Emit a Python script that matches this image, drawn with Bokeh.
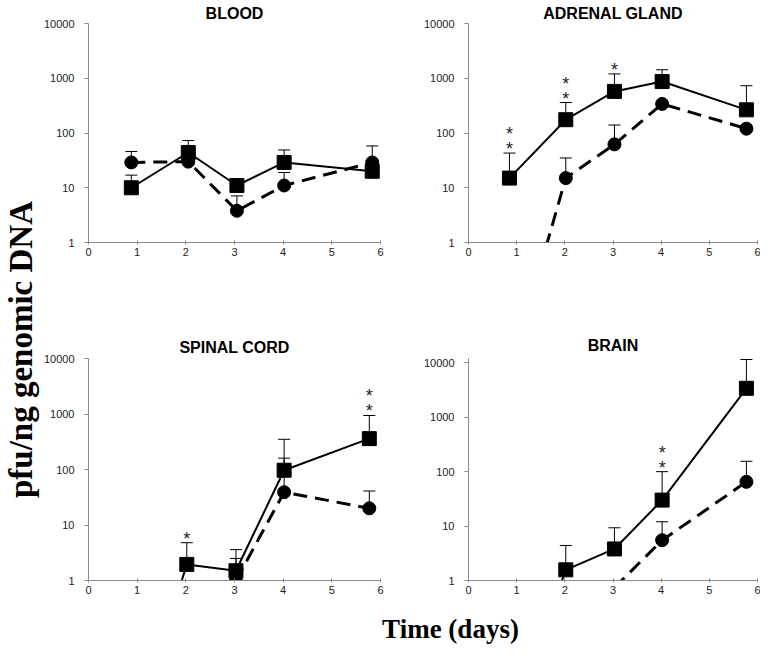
import math
from bokeh.plotting import figure
from bokeh.layouts import row, column
from bokeh.models import Range1d, FixedTicker, Whisker, TeeHead, ColumnDataSource, LabelSet
from bokeh.core.properties import value
from bokeh.embed import file_html
from bokeh.resources import INLINE

nan = float("nan")

# ---------------- data ----------------
x_ticks = [0, 1, 2, 3, 4, 5, 6]
y_ticks = [1, 10, 100, 1000, 10000]
y_tick_labels = ["1", "10", "100", "1000", "10000"]

days = [0.85, 2.02, 3.03, 4.02, 5.77]
blood_days = [0.88, 2.05, 3.05, 4.02, 5.83]

# squares (solid line) / circles (dashed line); None = no error bar drawn
blood_sq = [10, 44, 11, 29, 20]
blood_sq_err = [17, 73, None, 49, 58]
blood_ci = [29, 30, 3.8, 11, 29]
blood_ci_err = [46, None, 7.1, 19, None]
blood_stars = [0, 0, 0, 0, 0]

adrenal_sq = [15, 175, 575, 870, 265]
adrenal_sq_err = [43, 360, 1200, 1430, 730]
adrenal_ci = [0.004, 15, 62, 340, 120]
adrenal_ci_err = [None, 35, 140, None, None]
adrenal_stars = [2, 2, 1, 0, 0]

spinal_sq = [0.001, 1.95, 1.5, 97, 360]
spinal_sq_err = [None, 4.8, 3.6, 350, 940]
spinal_ci = [nan, nan, 1.0, 39, 20]
spinal_ci_err = [None, None, 2.5, 160, 41]
spinal_stars = [0, 1, 0, 0, 2]

brain_sq = [0.002, 1.57, 3.8, 30, 3400]
brain_sq_err = [None, 4.4, 9.3, 100, 11500]
brain_ci = [nan, nan, 0.74, 5.5, 65]
brain_ci_err = [None, None, None, 12, 155]
brain_stars = [0, 0, 0, 2, 2]

AXIS_GRAY = "#8a8a8a"
TICK_FONT = "Liberation Sans"


def make_panel(title, xs, sq, sq_err, ci, ci_err, stars, width, height,
               bl, br, bt, bb, title_offset, title_standoff, y_top=10000):
    p = figure(width=width, height=height, x_range=Range1d(0, 6), y_range=Range1d(1, y_top),
               y_axis_type="log", output_backend="svg", toolbar_location=None,
               min_border_left=bl, min_border_right=br, min_border_top=bt, min_border_bottom=bb,
               title=title)
    p.outline_line_color = None
    p.grid.visible = False
    p.title.align = "center"
    p.title.text_font = "Liberation Sans"
    p.title.text_font_size = "16px"
    p.title.text_font_style = "bold"
    p.title.text_color = "black"
    p.title.offset = title_offset
    p.title.standoff = title_standoff

    p.xaxis.ticker = FixedTicker(ticks=x_ticks)
    p.yaxis.ticker = FixedTicker(ticks=y_ticks)
    p.yaxis.major_label_overrides = dict(zip(y_ticks, y_tick_labels))
    for ax in (p.xaxis, p.yaxis):
        ax.axis_line_color = AXIS_GRAY
        ax.axis_line_width = 1
        ax.major_tick_line_color = AXIS_GRAY
        ax.minor_tick_line_color = None
        ax.major_label_text_font = TICK_FONT
        ax.major_label_text_font_size = "11px"
        ax.major_label_text_color = "#222222"
    p.xaxis.major_tick_in = 2
    p.xaxis.major_tick_out = 2
    p.xaxis.major_label_standoff = 3
    p.yaxis.major_tick_in = 0
    p.yaxis.major_tick_out = 4
    p.yaxis.major_label_standoff = 10

    # lines
    p.line(xs, ci, line_color="black", line_width=3, line_dash="14 8")
    p.line(xs, sq, line_color="black", line_width=2)

    # upper error bars
    for vals, errs in ((sq, sq_err), (ci, ci_err)):
        bx = [x for x, e in zip(xs, errs) if e is not None]
        lo = [v for v, e in zip(vals, errs) if e is not None]
        hi = [e for e in errs if e is not None]
        src = ColumnDataSource(dict(x=bx, lo=lo, hi=hi))
        w = Whisker(source=src, base="x", lower="lo", upper="hi", dimension="height",
                    line_color="black", line_width=1, lower_head=None,
                    upper_head=TeeHead(size=12, line_width=1, line_color="black"))
        p.add_layout(w)

    p.scatter(xs, ci, marker="circle", size=13, fill_color="black", line_color="black")
    p.scatter(xs, sq, marker="square", size=14, fill_color="black", line_color="black")

    # significance asterisks above the square error bars
    sx, sy, soff = [], [], []
    for x, e, v, n in zip(xs, sq_err, sq, stars):
        top = e if e is not None else v
        for k in range(n):
            sx.append(x)
            sy.append(top)
            soff.append(4 + 15 * k)
    if sx:
        ssrc = ColumnDataSource(dict(x=sx, y=sy, off=soff, t=["*"] * len(sx)))
        ls = LabelSet(source=ssrc, x="x", y="y", text="t", y_offset="off",
                      text_align="center", text_baseline="middle",
                      text_font=value("Liberation Sans"), text_font_size="18px",
                      text_color="#222222")
        p.add_layout(ls)
    return p


# page origin is (8, 8); columns: label 40 | panel col 1: 345 | panel col 2: 375  (total 760)
# rows: top 292 | bottom 312 | x label 44  (total 648)
pA = make_panel("BLOOD", blood_days, blood_sq, blood_sq_err, blood_ci, blood_ci_err, blood_stars,
                345, 292, 45, 5, 22, 50, 17, 4)
pB = make_panel("ADRENAL GLAND", days, adrenal_sq, adrenal_sq_err, adrenal_ci, adrenal_ci_err,
                adrenal_stars, 375, 292, 83, 3, 22, 50, 21, 4)
pC = make_panel("SPINAL CORD", days, spinal_sq, spinal_sq_err, spinal_ci, spinal_ci_err, spinal_stars,
                345, 312, 45, 5, 66, 24, 5, 5)
pD = make_panel("BRAIN", days, brain_sq, brain_sq_err, brain_ci, brain_ci_err, brain_stars,
                375, 312, 83, 3, 62, 24, 6, 9, y_top=12000)


def label_fig(w, h):
    f = figure(width=w, height=h, x_range=Range1d(0, w), y_range=Range1d(0, h),
               x_axis_type=None, y_axis_type=None, title=None,
               output_backend="svg", toolbar_location=None,
               min_border_left=0, min_border_right=0, min_border_top=0, min_border_bottom=0)
    f.grid.visible = False
    f.outline_line_color = None
    return f


ylab = label_fig(40, 604)
ylab.text(x=[20], y=[255], text=["pfu/ng genomic DNA"], angle=math.pi / 2,
          text_align="center", text_baseline="middle",
          text_font=value("Liberation Serif"), text_font_style="bold",
          text_font_size="33px", text_color="black")

xlab = label_fig(760, 44)
xlab.text(x=[450], y=[20], text=["Time (days)"], text_align="center",
          text_baseline="middle", text_font=value("Liberation Serif"),
          text_font_style="bold", text_font_size="27px", text_color="black")

layout = column(row(ylab, column(row(pA, pB), row(pC, pD))), xlab)

open("out.html", "w").write(file_html(layout, INLINE))
